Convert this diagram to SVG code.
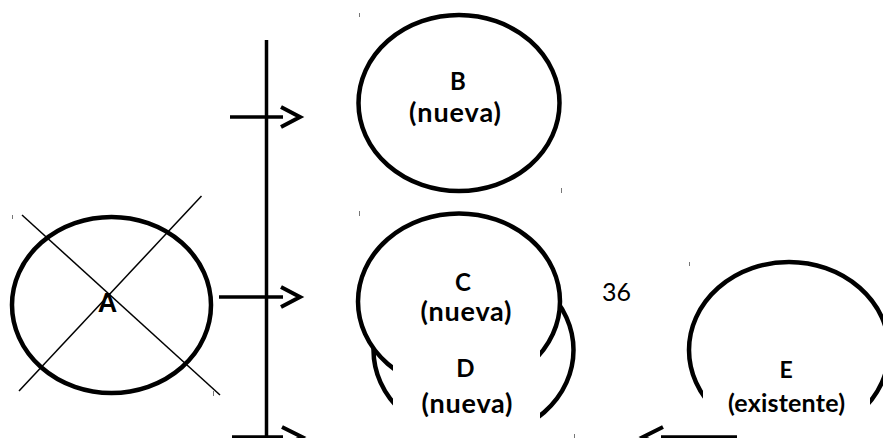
<svg xmlns="http://www.w3.org/2000/svg" width="883" height="438" viewBox="0 0 883 438">
  <style>
    .node { fill: #ffffff; stroke: #000000; stroke-width: 4.5; }
    .mask { fill: #ffffff; stroke: none; }
    .lbl { font-family: Lato, "Open Sans", sans-serif; font-weight: bold; fill: #000000; text-anchor: middle; }
    .num { font-family: Lato, "Open Sans", sans-serif; fill: #000000; }
    .edge { fill: none; stroke: #000000; stroke-width: 3.5; stroke-linejoin: miter; stroke-linecap: butt; }
    .head { fill: none; stroke: #000000; stroke-width: 4; stroke-linejoin: miter; stroke-linecap: butt; }
    .cross { fill: none; stroke: #000000; stroke-width: 1.5; }
    .tick { stroke: #777777; stroke-width: 1; }
  </style>
  <rect width="883" height="438" fill="#ffffff"/>

  <g id="marks">
    <line class="tick" x1="359.5" y1="13" x2="359.5" y2="17"/>
    <line class="tick" x1="359.5" y1="211" x2="359.5" y2="216"/>
    <line class="tick" x1="12.5" y1="215" x2="12.5" y2="219"/>
    <line class="tick" x1="561.5" y1="188" x2="561.5" y2="193"/>
    <line class="tick" x1="689.5" y1="262" x2="689.5" y2="266"/>
    <line class="tick" x1="574.5" y1="434" x2="574.5" y2="438"/>
    <line class="tick" x1="213.5" y1="391" x2="213.5" y2="396"/>
  </g>

  <g id="node-D">
    <ellipse class="node" cx="473.5" cy="350" rx="100" ry="88"/>
  </g>
  <g id="node-C">
    <ellipse class="node" cx="459" cy="301.5" rx="101" ry="88"/>
    <rect class="mask" x="393" y="340" width="147" height="98"/>
    <text class="lbl" x="463" y="291" font-size="24">C</text>
    <text class="lbl" x="466" y="321" font-size="27" textLength="91">(nueva)</text>
  </g>
  <g id="node-D-label">
    <text class="lbl" x="465.5" y="377" font-size="24">D</text>
    <text class="lbl" x="467" y="413" font-size="27" textLength="91">(nueva)</text>
  </g>
  <g id="node-B">
    <ellipse class="node" cx="459" cy="103" rx="100.5" ry="88"/>
    <text class="lbl" x="458" y="90" font-size="24">B</text>
    <text class="lbl" x="455" y="122" font-size="27" textLength="92">(nueva)</text>
  </g>
  <g id="node-E">
    <ellipse class="node" cx="789" cy="350" rx="100" ry="88"/>
    <rect class="mask" x="703" y="385" width="167" height="53"/>
    <text class="lbl" x="786" y="378" font-size="23">E</text>
    <text class="lbl" x="786.5" y="412" font-size="25" textLength="117">(existente)</text>
  </g>
  <g id="node-A">
    <ellipse class="node" cx="111.5" cy="305" rx="99.5" ry="88"/>
    <line class="cross" x1="22" y1="215" x2="220" y2="395"/>
    <line class="cross" x1="201.5" y1="196" x2="19" y2="391"/>
    <text x="107.5" y="312" font-family="'Liberation Sans', Arial, sans-serif" font-weight="bold" font-size="27" text-anchor="middle">A</text>
  </g>
  <g id="label-36">
    <text class="num" x="602" y="300.5" font-size="25">36</text>
  </g>

  <g id="connectors">
    <line class="edge" x1="266.5" y1="40" x2="266.5" y2="438"/>
    <line class="edge" x1="230" y1="117" x2="283" y2="117"/>
    <polyline class="head" points="281,107 300,117 281,127"/>
    <line class="edge" x1="219" y1="297" x2="283" y2="297"/>
    <polyline class="head" points="281,287 300,297 281,307"/>
    <line class="edge" x1="232" y1="437" x2="283" y2="437"/>
    <polyline class="head" points="282,427 302,437 282,447"/>
    <line class="edge" x1="661" y1="437" x2="737" y2="437"/>
    <polyline class="head" points="663,427 643,437 663,447"/>
  </g>
</svg>
